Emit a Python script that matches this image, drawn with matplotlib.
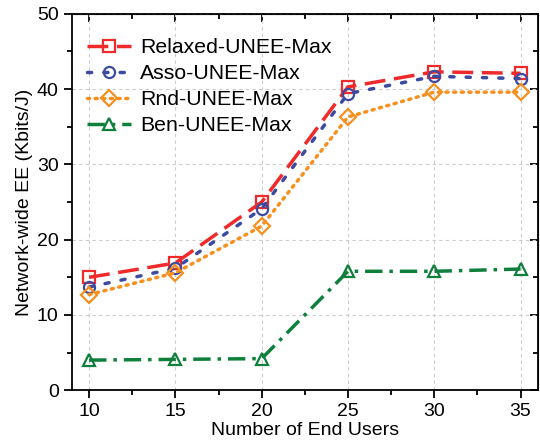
import numpy as np
import matplotlib.pyplot as plt
from matplotlib.ticker import MultipleLocator

plt.rcParams['font.family'] = ['Liberation Sans', 'DejaVu Sans']

users = [10, 15, 20, 25, 30, 35]
relaxed = [15.0, 16.9, 25.0, 40.3, 42.3, 42.1]
asso = [13.7, 16.2, 24.1, 39.4, 41.7, 41.4]
rnd = [12.7, 15.6, 21.8, 36.3, 39.6, 39.6]
ben = [4.0, 4.1, 4.2, 15.8, 15.8, 16.1]

fig = plt.figure(figsize=(5.4, 4.47), dpi=100)
ax = fig.add_axes([0.133, 0.127, 0.863, 0.842])

ax.grid(True, color='#cccccc', linestyle=(0, (3, 3)), linewidth=0.8)
ax.set_axisbelow(True)

ax.plot(users, relaxed, color='#ee2a2a', linestyle=(0, (6, 2.5)), linewidth=2.5,
        marker='s', markersize=8, markerfacecolor='none', markeredgewidth=1.6,
        label='Relaxed-UNEE-Max')
ax.plot(users, asso, color='#3c4aa0', linestyle=(0, (1.2, 3.5)), linewidth=2.5,
        marker='o', markersize=8, markerfacecolor='none', markeredgewidth=1.6,
        dash_capstyle='round', label='Asso-UNEE-Max')
ax.plot(users, rnd, color='#f7901e', linestyle=(0, (0.6, 1.6)), linewidth=2.5,
        marker='D', markersize=8, markerfacecolor='none', markeredgewidth=1.6,
        dash_capstyle='round', label='Rnd-UNEE-Max')
ax.plot(users, ben, color='#0f7f3c', linestyle=(0, (5, 2, 1, 2)), linewidth=2.5,
        marker='^', markersize=9, markerfacecolor='none', markeredgewidth=1.6,
        label='Ben-UNEE-Max')

ax.set_xlim(9, 36)
ax.set_ylim(0, 50)
ax.xaxis.set_major_locator(MultipleLocator(5))
ax.xaxis.set_minor_locator(MultipleLocator(2.5))
ax.yaxis.set_major_locator(MultipleLocator(10))
ax.yaxis.set_minor_locator(MultipleLocator(5))
ax.tick_params(which='both', direction='out', top=False, right=False, labelsize=14, width=1.3)
ax.tick_params(which='major', length=6)
ax.tick_params(which='minor', length=3.5)

for s in ax.spines.values():
    s.set_linewidth(1.3)

# mirrored inward ticks on top/right
sec_x = ax.secondary_xaxis('top')
sec_x.xaxis.set_major_locator(MultipleLocator(5))
sec_x.xaxis.set_minor_locator(MultipleLocator(2.5))
sec_x.tick_params(which='both', direction='in', labeltop=False, width=1.3)
sec_x.tick_params(which='major', length=6)
sec_x.tick_params(which='minor', length=3.5)
sec_y = ax.secondary_yaxis('right')
sec_y.yaxis.set_major_locator(MultipleLocator(10))
sec_y.yaxis.set_minor_locator(MultipleLocator(5))
sec_y.tick_params(which='both', direction='in', labelright=False, width=1.3)
sec_y.tick_params(which='major', length=6)
sec_y.tick_params(which='minor', length=3.5)

ax.set_xlabel('Number of End Users', fontsize=14, labelpad=1)
ax.set_ylabel('Network-wide EE (Kbits/J)', fontsize=14, labelpad=3)

leg = ax.legend(loc='upper left', frameon=False, fontsize=15.3, handlelength=2.1,
                handletextpad=0.4, labelspacing=0.33, borderaxespad=0.3,
                bbox_to_anchor=(0.0, 0.975))

fig.savefig('out.png', dpi=100)
